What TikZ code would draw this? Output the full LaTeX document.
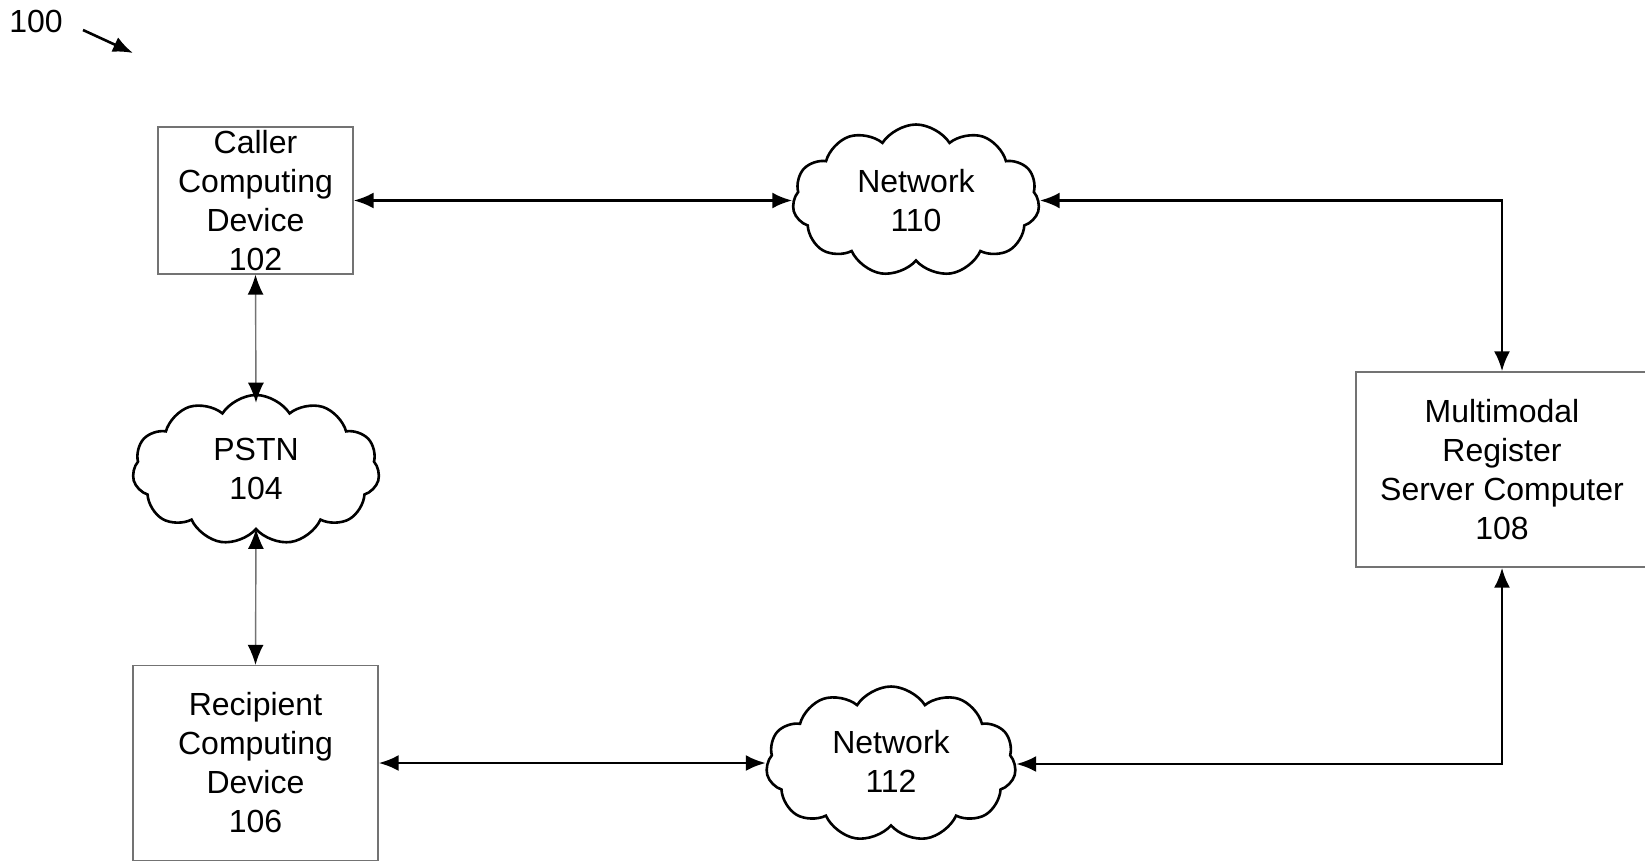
\documentclass[tikz,border=0pt]{standalone}
\usepackage{fontspec}
\setmainfont{Liberation Sans}
\usetikzlibrary{shapes.symbols,arrows.meta}
\begin{document}
\begin{tikzpicture}[x=1pt,y=-1pt,
  every node/.style={font=\fontsize{32}{39}\selectfont},
  box/.style={draw=black!55,line width=1.3pt,rectangle,inner sep=0pt,align=center},
  netcloud/.style={draw=black,line width=2.6pt,cloud,cloud puffs=11,cloud puff arc=115,
     inner sep=0pt},
  cloudtext/.style={inner sep=0pt,align=center},
  conn/.style={draw=black,line width=2.8pt,{Latex[length=20pt,width=16pt]}-{Latex[length=20pt,width=16pt]}},
  thinconn/.style={draw=black!55,line width=1.4pt,{Latex[length=20pt,width=16pt,color=black]}-{Latex[length=20pt,width=16pt,color=black]}},
  refarrow/.style={draw=black,line width=2.6pt,-{Latex[length=20pt,width=16pt]}}]
\useasboundingbox (0,0) rectangle (1645,862);

\node (lbl) at (36,21) {100};
\coordinate (lblstart) at (83,30);
\coordinate (lblend) at (133,53);
\draw[refarrow] (lblstart) -- (lblend);

\node[box,minimum width=195pt,minimum height=147pt] (caller) at (255.5,200.5)
  {Caller\\Computing\\Device\\102};
\node[box,minimum width=245pt,minimum height=195pt] (recip) at (255.5,763)
  {Recipient\\Computing\\Device\\106};
\node[box,minimum width=292pt,minimum height=195pt] (server) at (1502,469.5)
  {Multimodal\\Register\\Server Computer\\108};

\node[netcloud,minimum width=247pt,minimum height=152pt] (net110) at (916,200.5) {};
\node[cloudtext] (net110t) at (net110.center) {Network\\110};
\node[netcloud,minimum width=250pt,minimum height=155pt] (net112) at (891,764) {};
\node[cloudtext] (net112t) at ([yshift=3pt]net112.center) {Network\\112};
\node[netcloud,minimum width=247pt,minimum height=150pt] (pstn) at (256,470) {};
\node[cloudtext] (pstnt) at ([yshift=1pt]pstn.center) {PSTN\\104};

\draw[conn] (caller.east) -- (caller.east -| net110.west);
\draw[conn] (net110.east) -| (server.north);
\draw[conn] (server.south) |- (net112.east);
\draw[conn] (recip.east) -- (recip.east -| net112.west);
\draw[thinconn] (caller.south) -- ([yshift=-9pt]pstn.north);
\draw[thinconn] ([yshift=2pt]pstn.south) -- (recip.north);
\end{tikzpicture}
\end{document}
